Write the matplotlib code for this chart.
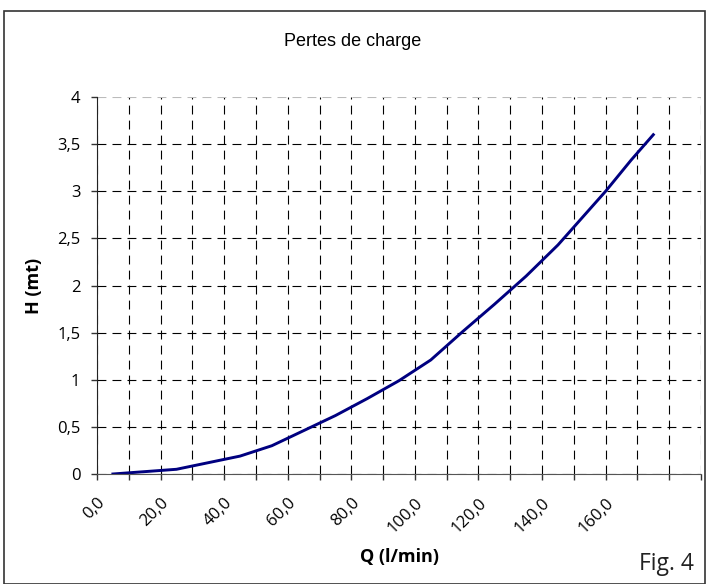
import matplotlib.pyplot as plt
import matplotlib.transforms as mtransforms
from matplotlib.patches import Rectangle

# 数据：流量 Q (l/min) 与 压头损失 H (mt)
portata = [5, 25, 45, 55, 65, 75, 85, 95, 105, 115, 125, 135, 145, 150, 160, 168, 175]
perdite = [0.0, 0.05, 0.19, 0.30, 0.46, 0.62, 0.80, 0.99, 1.21, 1.51, 1.80, 2.10, 2.43, 2.62, 3.0, 3.33, 3.6]
# 刻度
x_ticks = list(range(0, 200, 10))
x_labels = ['%d,0' % v if v % 20 == 0 and v <= 160 else '' for v in x_ticks]
y_ticks = [0, 0.5, 1, 1.5, 2, 2.5, 3, 3.5, 4]
y_labels = ['0', '0,5', '1', '1,5', '2', '2,5', '3', '3,5', '4']

plt.rcParams['font.family'] = ['Open Sans', 'DejaVu Sans']

fig = plt.figure(figsize=(7.06, 5.84), dpi=100)
# 外框
fig.patches.append(Rectangle((4 / 706, 0.5 / 584), 700.5 / 706, 573 / 584, transform=fig.transFigure,
                             fill=False, edgecolor='#333333', linewidth=1.2))

ax = fig.add_axes([97 / 706, 110 / 584, 604 / 706, 377 / 584])
ax.plot(portata, perdite, color='#000080', linewidth=2.1)

ax.set_xlim(0, 190)
ax.set_ylim(0, 4)
ax.set_xticks(x_ticks)
ax.set_xticklabels(x_labels, rotation=45, ha='right', va='top', rotation_mode='anchor', fontsize=12)
# 斜标签向右微移
shift = mtransforms.ScaledTranslation(8 / 100, 0, fig.dpi_scale_trans)
for lbl in ax.get_xticklabels():
    lbl.set_transform(lbl.get_transform() + shift)
ax.set_yticks(y_ticks)
ax.set_yticklabels(y_labels, fontsize=12)
ax.tick_params(axis='both', direction='out', length=4, color='#333333', width=1)
ax.tick_params(axis='x', pad=11)
ax.tick_params(axis='y', pad=8)

ax.grid(True, color='black', linestyle=(0, (8, 5.5)), linewidth=0.8)
# 顶部网格线颜色较浅
ax.yaxis.get_gridlines()[-1].set_color('#bbbbbb')
for s in ['top', 'right']:
    ax.spines[s].set_visible(False)
ax.spines['left'].set_color('#222222')
ax.spines['bottom'].set_color('#555555')

ax.set_xlabel('Q (l/min)', fontweight='bold', fontsize=13, va='center')
ax.xaxis.set_label_coords(0.5, (474 - 557) / 377)
ax.set_ylabel('H (mt)', fontweight='bold', fontsize=13, va='center')
ax.yaxis.set_label_coords((34 - 97) / 604, 0.5)

fig.text(0.5, 1 - 41 / 584, 'Pertes de charge', family='Liberation Sans', fontsize=13, ha='center', va='center')
fig.text(666 / 706, 1 - 570 / 584, 'Fig. 4', fontsize=16.5, ha='center', va='baseline', color='#222222')

fig.savefig('out.png', dpi=100)
